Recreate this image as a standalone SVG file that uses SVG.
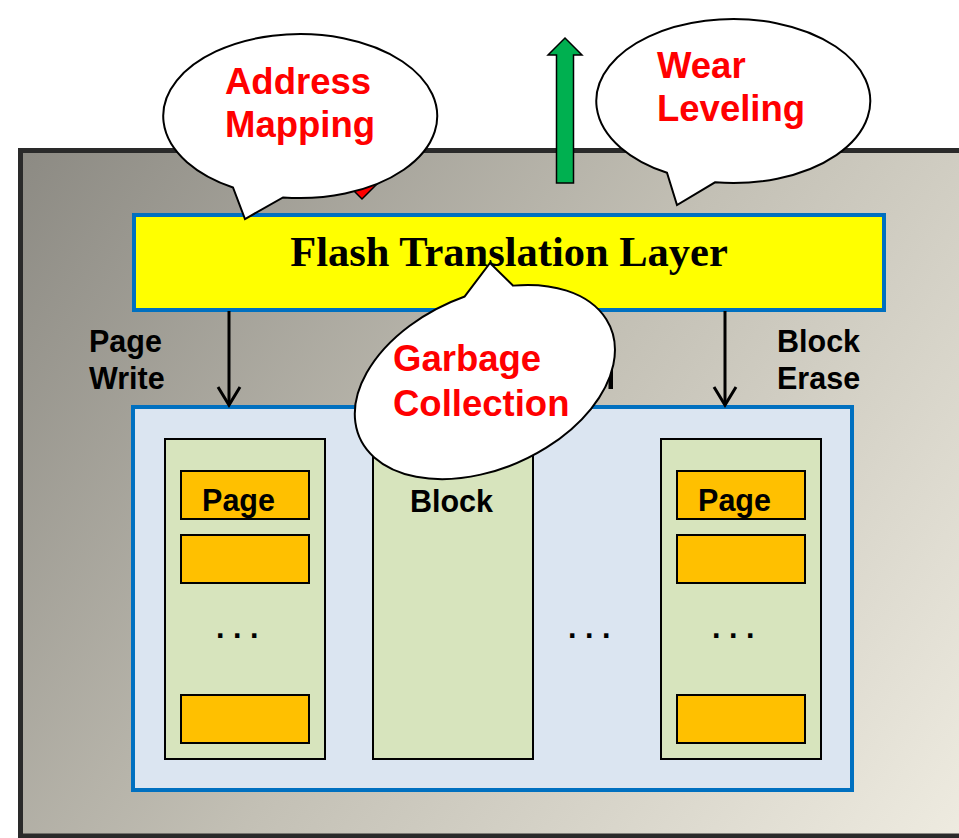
<svg xmlns="http://www.w3.org/2000/svg" width="959" height="838" viewBox="0 0 959 838">
<style>
.lbl{font-family:"Liberation Sans",Arial,sans-serif;font-weight:bold;font-size:30.5px;fill:#000}
.bt{font-family:"Liberation Sans",Arial,sans-serif;font-weight:bold;font-size:36.5px;fill:#ff0000}
.ftl{font-family:"Liberation Serif","Times New Roman",serif;font-weight:bold;font-size:42.5px;fill:#000}
.blk{fill:#d7e4bd;stroke:#000;stroke-width:2}
.pg{fill:#ffc000;stroke:#000;stroke-width:2}
.bub{fill:#fff;stroke:#000;stroke-width:2;stroke-linejoin:miter}
.conn{stroke:#000;stroke-width:3;fill:none}
</style>
<defs>
<linearGradient id="bg" gradientUnits="userSpaceOnUse" x1="20" y1="150" x2="959" y2="838">
<stop offset="0" stop-color="#8c8a83"/>
<stop offset="0.5" stop-color="#c3c0b5"/>
<stop offset="1" stop-color="#eeebe0"/>
</linearGradient>
</defs>
<rect width="959" height="838" fill="#fff"/>
<g id="outer">
<rect x="20.5" y="150.5" width="960" height="685.5" fill="url(#bg)" stroke="#2a2a2a" stroke-width="5"/>
</g>
<g id="ftl">
<rect x="134" y="215" width="750" height="95" fill="#ffff00" stroke="#0070c0" stroke-width="4"/>
<text class="ftl" x="509" y="266" text-anchor="middle">Flash Translation Layer</text>
</g>
<g id="memory">
<rect x="133" y="407" width="719" height="383" fill="#dbe5f1" stroke="#0070c0" stroke-width="4"/>
</g>
<g id="block1">
<rect class="blk" x="165" y="439" width="160" height="320"/>
<rect class="pg" x="181" y="471" width="128" height="48"/>
<text class="lbl" x="238.5" y="511" text-anchor="middle">Page</text>
<rect class="pg" x="181" y="535" width="128" height="48"/>
<text class="lbl" x="216" y="638">. . .</text>
<rect class="pg" x="181" y="695" width="128" height="48"/>
</g>
<g id="block2">
<rect class="blk" x="373" y="439" width="160" height="320"/>
<text class="lbl" x="451.5" y="512" text-anchor="middle">Block</text>
</g>
<g id="gap-dots">
<text class="lbl" x="568" y="638">. . .</text>
</g>
<g id="block3">
<rect class="blk" x="661" y="439" width="160" height="320"/>
<rect class="pg" x="677" y="471" width="128" height="48"/>
<text class="lbl" x="734.5" y="511" text-anchor="middle">Page</text>
<rect class="pg" x="677" y="535" width="128" height="48"/>
<text class="lbl" x="712" y="638">. . .</text>
<rect class="pg" x="677" y="695" width="128" height="48"/>
</g>
<g id="labels">
<text class="lbl" x="89" y="352">Page</text>
<text class="lbl" x="89" y="389">Write</text>
<text class="lbl" x="777" y="352">Block</text>
<text class="lbl" x="777" y="389">Erase</text>
<rect x="608.5" y="366" width="4.5" height="23" fill="#000"/>
</g>
<g id="connectors">
<line class="conn" x1="229" y1="311" x2="229" y2="404"/>
<polyline class="conn" points="218,387 229,405 240,387"/>
<line class="conn" x1="725" y1="311" x2="725" y2="404"/>
<polyline class="conn" points="714,387 725,405 736,387"/>
<path d="M354,120 H370 V184 H377 L362,199 L347,184 H354 Z" fill="#ff0000" stroke="#000" stroke-width="1.5"/>
<path d="M565,38 L582,55 H573.5 V183 H556.5 V55 H548 Z" fill="#00b050" stroke="#000" stroke-width="1.5"/>
</g>
<g id="address-mapping">
<path class="bub" d="M283,197.4 A137 82 0 1 0 233,187.5 L245,219 Z"/>
<text class="bt" x="225" y="94">Address</text>
<text class="bt" x="225" y="137">Mapping</text>
</g>
<g id="wear-leveling">
<path class="bub" d="M715,182.3 A137 82 0 1 0 667,172.8 L677,205 Z"/>
<text class="bt" x="657" y="78">Wear</text>
<text class="bt" x="657" y="121">Leveling</text>
</g>
<g id="garbage-collection">
<path class="bub" transform="translate(485,382) rotate(-24)" d="M16.3,-86.4 L53,-106.7 L64.9,-76.6 A137 87 0 1 1 16.3,-86.4 Z"/>
<text class="bt" x="393" y="371">Garbage</text>
<text class="bt" x="393" y="416">Collection</text>
</g>
</svg>
